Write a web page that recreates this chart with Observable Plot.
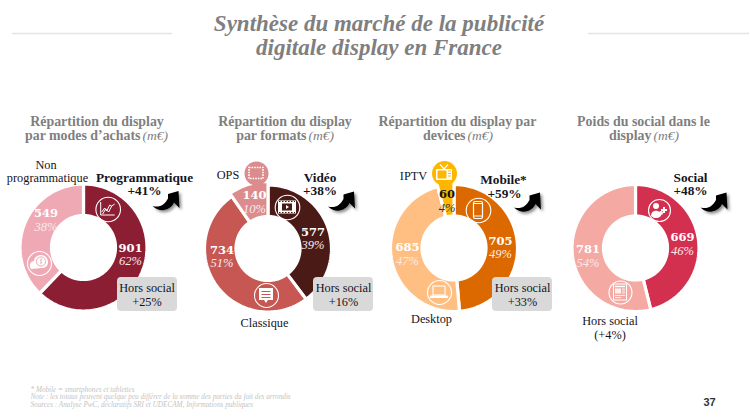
<!DOCTYPE html>
<html lang="fr">
<head>
<meta charset="utf-8">
<script src="https://cdn.jsdelivr.net/npm/d3@7"></script>
<script src="https://cdn.jsdelivr.net/npm/@observablehq/plot@0.6"></script>
<style>html,body{margin:0;padding:0;background:#fff}svg{display:block}</style>
</head>
<body>
<div id="chart"></div>
<script>
// ---- Data ----
const modeLabels = ["Programmatique", "Non programmatique"];
const modeValues = [901, 549];
const modeShares = ["62%", "38%"];
const formatLabels = ["Vidéo", "Classique", "OPS"];
const formatValues = [577, 734, 140];
const formatShares = ["39%", "51%", "10%"];
const deviceLabels = ["Mobile*", "Desktop", "IPTV"];
const deviceValues = [705, 685, 60];
const deviceShares = ["49%", "47%", "4%"];
const socialLabels = ["Social", "Hors social"];
const socialValues = [669, 781];
const socialShares = ["46%", "54%"];
const growthMain = ["+41%", "+38%", "+59%", "+48%"];
const growthOther = ["+25%", "+16%", "+33%", "(+4%)"];

// ---- Layout & style ----
const SERIF = "'Liberation Serif','DejaVu Serif',serif";
const WIDE = "'DejaVu Serif','Liberation Serif',serif";
const INK = "#14141e", GREY = "#7f7f7f";

function ring(values, colors, cx, cy, outer, inner = 32) {
  const arcs = d3.pie().sort(null).startAngle(0).endAngle(2 * Math.PI)(values);
  return arcs.map((a, i) => {
    const R = Array.isArray(outer) ? outer[i] : outer;
    const n = Math.max(4, Math.ceil((a.endAngle - a.startAngle) * 40));
    const pts = d3.range(n + 1).map(k => {
      const t = a.startAngle + (a.endAngle - a.startAngle) * k / n;
      return {x1: cx + R * Math.sin(t), y1: cy - R * Math.cos(t),
              x2: cx + inner * Math.sin(t), y2: cy - inner * Math.cos(t)};
    });
    return Plot.area(pts, {x1: "x1", y1: "y1", x2: "x2", y2: "y2", fill: colors[i], stroke: "#fff", strokeWidth: 3.2, strokeLinejoin: "miter"});
  });
}

function txt(rows, o) {
  return Plot.text(rows, {x: d => d[1], y: d => d[2], text: d => d[0], fontFamily: SERIF, lineAnchor: "middle", ...o});
}

function glyph(markup, x, y, extra = "") {
  return (index, scales) => {
    const g = d3.create("svg:g")
      .attr("transform", `translate(${scales.x(x)},${scales.y(y)})`)
      .attr("style", extra);
    g.html(markup);
    return g.node();
  };
}

const W = 'stroke="#fff" fill="none" stroke-width="1"';
const icons = {
  trend: `<path ${W} d="M-7,-7V6H7M-6,3L-3,-1L-1,2L2,-4L4,-3L7,-5M-5,5L-2,0L1,3L4,-3"/>`,
  coins: `<path fill="#fff" d="M-9,4C-10,0-7,-2-5,-2C-5,-6-1,-8 2,-8C7,-8 9,-4 9,-1C9,3 6,5 3,5L-8,6Z"/><circle cx="2" cy="-1.5" r="4.6" fill="none" stroke="#efa9b5"/><path d="M3.4,-3.4C1.5,-4 .8,-2.4 2,-1.8C3.4,-1.2 3,.6 .8,.2M2,-4.6V1.4" fill="none" stroke="#efa9b5" stroke-width=".7"/>`,
  film: `<rect x="-9" y="-6.5" width="18" height="13" fill="#fff"/><rect x="-5" y="-3.5" width="10" height="7" fill="#4a1a17"/><path d="M-1,-2L2,0L-1,2Z" fill="#fff"/><path d="M-8,-5.5H8M-8,5.5H8" stroke="#4a1a17" stroke-dasharray="1.5 1.5"/>`,
  bubble: `<path fill="#fff" d="M-7,-7H7V5H2L0,8L-2,5H-7Z"/><path d="M-4.5,-3.5H4.5M-4.5,-.5H4.5M-4.5,2.5H4.5" stroke="#c65752" stroke-width="1.2"/>`,
  frame: `<rect x="-7" y="-5.5" width="14" height="11" fill="none" stroke="#fff" stroke-width="1.6" stroke-dasharray="1.6 1"/>`,
  phone: `<rect x="-4.5" y="-8.5" width="9" height="17" rx="1.5" fill="none" stroke="#fff" stroke-width="1.2"/><path d="M-4,-6.5H4M-4,6H4" stroke="#fff"/>`,
  laptop: `<rect x="-6" y="-6" width="12" height="9" fill="none" stroke="#fff" stroke-width="1.1"/><path d="M-8.5,3.5H8.5L9.5,6H-9.5Z" fill="#fff"/>`,
  tv: `<rect x="-8" y="-4.5" width="16" height="11" rx="1" fill="#fff"/><rect x="-6.5" y="-3" width="9" height="8" fill="#ffb600"/><path d="M-4,-9L0,-4.5L4,-9" stroke="#fff" fill="none" stroke-width="1.2"/><path d="M4,-2.5H7M4,0H7M4,2.5H7" stroke="#ffb600"/>`,
  social: `<circle cx="-3" cy="-4" r="3" fill="#fff"/><path d="M-8,6C-8,-1 2,-1 2,6L-1,8H-5Z" fill="#fff"/><path d="M5,-3V3M2,0H8" stroke="#fff" stroke-width="2"/><circle cx="2" cy="3" r="2" fill="#fff"/>`,
  news: `<rect x="-6.5" y="-8" width="13" height="16" fill="none" stroke="#fff"/><path d="M-5,-5.5H5" stroke="#fff" stroke-width="1.4"/><rect x="-5" y="-3.5" width="6" height="5" fill="#fff" opacity=".85"/><path d="M2,-3H5M2,-1H5M2,1H5M-5,3.5H5M-5,5.5H1" stroke="#fff" stroke-width=".8"/>`,
  arrow: `<path fill="#000" d="M0,0L1,17L-4.5,11.5C-8,19-18,22.5-26,15C-19,17-14,14-10.5,7.5L-10.5,3Z"/>`
};

const ringDots = [[107.7,209,12.3],[39,263,12],[287,207,12.3],[266,295,12],[478,210,12.3],[439,292,12],[659,210,11],[620,292,11.5]];
const filledDots = [[256,173,12,"#dc8c8c"],[444,173,12.5,"#ffb600"]];
const glyphAt = [["trend",107.7,209],["coins",39,263],["film",287,207],["bubble",266,295],["frame",256,173],["phone",478,210],["laptop",439,292],["tv",444,173.5],["social",659,210],["news",620,292]];
const arrowTips = [[178.5,191],[354,191.5],[540,192.5],[726.5,192.5]];
const boxes = [[117,177],[313,373],[492,552]];

const marks = [
  // header
  Plot.ruleY([33], {x1: 12, x2: 172, stroke: "#e4e4e4", strokeWidth: 1.6}),
  Plot.ruleY([33], {x1: 588, x2: 749, stroke: "#e4e4e4", strokeWidth: 1.6}),
  txt([["Synthèse du marché de la publicité", 378.5, 23.5], ["digitale display en France", 378.5, 47]],
      {fontSize: 23, fontWeight: "bold", fontStyle: "italic", fill: GREY}),
  // sub-titles
  txt([["Répartition du display", 96.5, 121], ["Répartition du display", 284.5, 121], ["Répartition du display par", 457, 121], ["Poids du social dans le", 643, 121]],
      {fontSize: 13.9, fontWeight: "bold", fill: GREY}),
  txt([["par modes d’achats", 140, 135.5], ["par formats", 306, 135.5], ["devices", 465, 135.5], ["display", 651, 135.5]],
      {fontSize: 13.9, fontWeight: "bold", fill: GREY, textAnchor: "end"}),
  txt([["(m€)", 142, 135.5], ["(m€)", 308, 135.5], ["(m€)", 467, 135.5], ["(m€)", 653, 135.5]],
      {fontSize: 13.5, fontStyle: "italic", fill: GREY, textAnchor: "start"}),
  // doughnuts
  ...ring(modeValues, ["#8b1e33", "#efa9b5"], 83.5, 247.5, 63.5),
  ...ring(formatValues, ["#4a1a17", "#c65752", "#dc8c8c"], 268, 248.5, [63.5, 63.5, 67]),
  ...ring(deviceValues, ["#dc6900", "#ffbf82", "#ffb600"], 454, 248, [63.5, 63.5, 70]),
  ...ring(socialValues, ["#d32f4f", "#f4a9a3"], 635.5, 248, 63.5),
  // icons
  Plot.dot(filledDots, {x: d => d[0], y: d => d[1], r: d => d[2], fill: d => d[3]}),
  Plot.dot(ringDots, {x: d => d[0], y: d => d[1], r: d => d[2], stroke: "#fff", strokeWidth: 1.1, fill: "none"}),
  ...glyphAt.map(([k, x, y]) => glyph(icons[k], x, y)),
  ...arrowTips.map(([x, y]) => glyph(icons.arrow, x, y, "filter:drop-shadow(2px 2px 1.5px rgba(0,0,0,.45))")),
  // grey boxes
  Plot.rect(boxes, {x1: d => d[0], x2: d => d[1], y1: 277, y2: 311, fill: "#d9d9d9", rx: 4}),
  // segment names
  txt([["Non", 45.5, 164.5], ["programmatique", 47, 178], ["OPS", 227.5, 175], [formatLabels[1], 264, 323], ["IPTV", 413, 175.5], [deviceLabels[1], 431, 319], [socialLabels[1], 609.5, 321], [growthOther[3], 609.5, 335]],
      {fontSize: 12.3, fill: INK}),
  txt([[modeLabels[0], 144, 177], [formatLabels[0], 319.5, 177], [deviceLabels[0], 503, 179], [socialLabels[0], 690, 177]],
      {fontSize: 13.3, fontWeight: "bold", fill: INK}),
  txt([[growthMain[0], 144, 190.5], [growthMain[1], 319.5, 190.5], [growthMain[2], 504, 193], [growthMain[3], 690, 190.5]],
      {fontSize: 13.3, fontWeight: "bold", fill: INK}),
  txt([["Hors social", 146.5, 288], [growthOther[0], 146.5, 302], ["Hors social", 343, 288], [growthOther[1], 343, 302], ["Hors social", 522, 288], [growthOther[2], 522, 302]],
      {fontSize: 12.3, fill: INK}),
  // values
  txt([[modeValues[0], 130, 247.5], [modeValues[1], 45.5, 212.5], [formatValues[0], 312.5, 231.5], [formatValues[1], 221.5, 249.5], [formatValues[2], 254, 194.5], [deviceValues[0], 500, 240.5], [deviceValues[1], 407, 246.5], [socialValues[0], 682, 236.5], [socialValues[1], 587.5, 248.5]],
      {fontSize: 11.5, fontFamily: WIDE, fontWeight: "bold", fill: "#fff"}),
  txt([[modeShares[0], 130, 260], [modeShares[1], 45.5, 226], [formatShares[0], 312.5, 244], [formatShares[1], 221.5, 262], [formatShares[2], 254, 208], [deviceShares[0], 500, 253], [deviceShares[1], 407, 260], [socialShares[0], 682, 250], [socialShares[1], 587.5, 262]],
      {fontSize: 12.5, fontStyle: "italic", fill: "#fbe9e9"}),
  txt([[deviceValues[2], 446.5, 194]], {fontSize: 11.5, fontFamily: WIDE, fontWeight: "bold", fill: "#111"}),
  txt([[deviceShares[2], 446.5, 207.5]], {fontSize: 12.5, fontStyle: "italic", fill: "#333"}),
  // footer
  txt([["* Mobile = smartphones et tablettes", 30, 389], ["Note : les totaux peuvent quelque peu différer de la somme des parties du fait des arrondis", 30, 396.5], ["Sources : Analyse PwC, déclaratifs SRI et UDECAM, Informations publiques", 30, 404]],
      {fontSize: 7.2, fontStyle: "italic", fill: "#c4c4c4", textAnchor: "start"}),
  Plot.text([["37", 709, 402]], {x: d => d[1], y: d => d[2], text: d => d[0], fontFamily: "'Liberation Sans',sans-serif", fontWeight: "bold", fontSize: 11, fill: "#333", lineAnchor: "middle"})
];

document.getElementById("chart").append(Plot.plot({
  width: 750, height: 418,
  margin: 0,
  x: {domain: [0, 750], range: [0, 750], axis: null},
  y: {domain: [0, 418], range: [0, 418], axis: null},
  r: {type: "identity"},
  style: {background: "#fff"},
  marks
}));
</script>
</body>
</html>
